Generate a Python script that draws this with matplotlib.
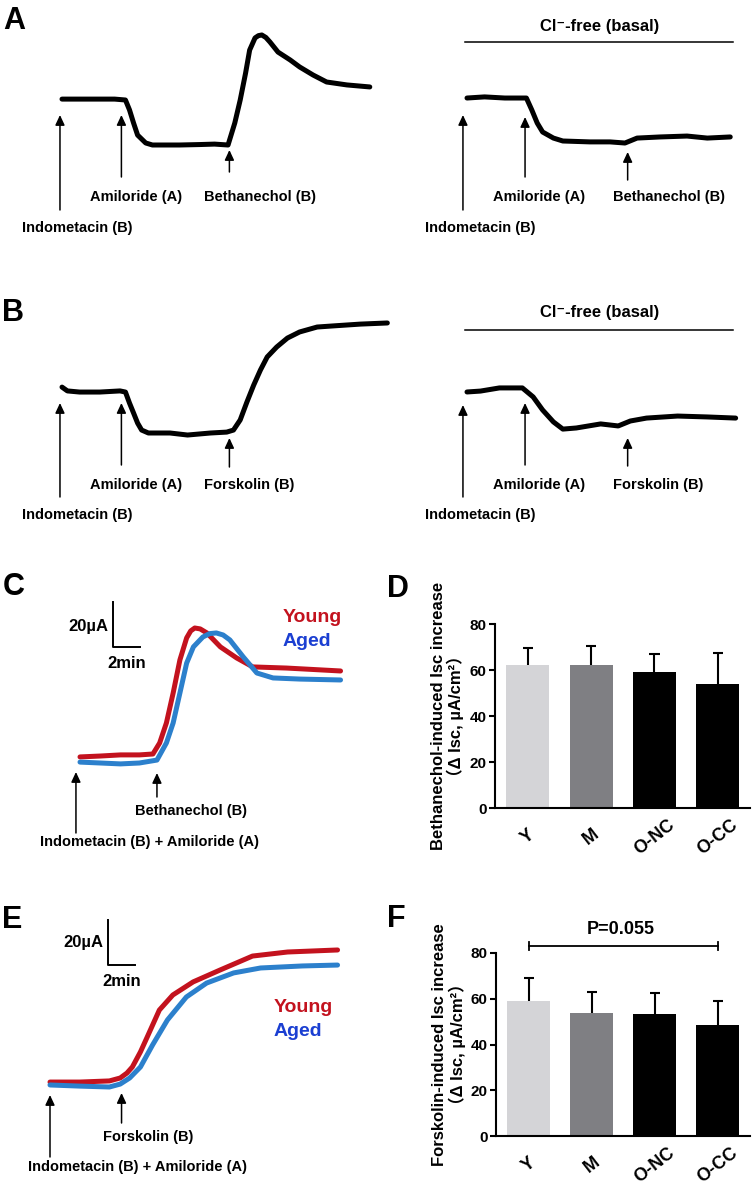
import numpy as np
import matplotlib.pyplot as plt
from matplotlib import transforms

# traces: time (min), Isc (uA) relative to the amiloride plateau
a1_t = [0, 1.3, 2.8, 3.9, 4.7, 5.0, 5.3, 5.6, 6.2, 6.7, 8.7, 10.2, 11.3, 12.3, 12.8, 13.2, 13.6, 13.9,
        14.3, 14.55, 14.8, 15.1, 15.4, 16.0, 16.9, 17.6, 18.6, 19.6, 21.1, 22.8]
a1_i = [20.4, 20.4, 20.4, 20.4, 20.0, 15.6, 9.8, 4.4, 0.9, 0, 0, 0.2, 0.4, 0, 9.8, 20.0, 32.0, 42.2,
        47.6, 48.6, 48.9, 47.8, 45.8, 41.3, 37.8, 34.7, 31.1, 28.0, 26.7, 25.8]
a2_t = [0, 1.3, 2.8, 3.9, 4.4, 4.8, 5.2, 5.6, 6.4, 7.1, 9.1, 10.6, 11.7, 12.6, 14.3, 16.3, 17.8, 19.5]
a2_i = [19.1, 19.6, 19.1, 19.1, 19.1, 13.8, 8.0, 4.0, 1.3, 0, -0.4, -0.4, -0.9, 1.3, 1.8, 2.2, 1.3, 1.8]

b1_t = [0, 0.4, 1.3, 2.8, 4.3, 4.7, 5.0, 5.3, 5.6, 5.9, 6.4, 8.0, 9.3, 11.0, 12.2, 12.7, 13.2, 13.7,
        14.2, 14.7, 15.2, 15.9, 16.7, 17.6, 18.9, 20.1, 22.1, 24.1]
b1_i = [20.4, 18.7, 18.2, 18.2, 18.7, 18.2, 13.3, 8.9, 4.4, 1.3, 0, 0, -0.9, 0, 0.4, 1.3, 5.8, 13.8,
        21.3, 28.0, 33.8, 38.2, 42.2, 44.9, 47.1, 47.6, 48.4, 48.9]
b2_t = [0, 1.0, 2.4, 4.1, 4.9, 5.6, 6.4, 7.1, 8.1, 9.9, 11.2, 12.1, 13.3, 15.6, 17.8, 19.9]
b2_i = [16.9, 17.3, 18.7, 18.7, 14.7, 8.9, 3.6, 0.4, 0.9, 2.7, 1.8, 4.0, 5.3, 6.2, 5.8, 5.3]

c_t_young = [0, 1.5, 3.0, 4.4, 5.4, 5.9, 6.4, 6.9, 7.4, 7.9, 8.2, 8.5, 8.9, 9.4, 10.4, 11.6, 12.8, 15.3, 19.3]
c_i_young = [2.7, 3.1, 3.6, 3.6, 4.0, 8.9, 17.8, 31.1, 45.8, 55.6, 58.7, 60.0, 59.6, 57.8, 51.6, 46.7, 42.7,
             42.2, 40.9]
c_t_aged = [0, 1.5, 3.0, 4.4, 5.7, 6.4, 6.9, 7.4, 7.9, 8.4, 9.1, 9.6, 10.1, 10.6, 11.1, 12.1, 13.1, 14.3,
            16.3, 19.3]
c_i_aged = [0.4, 0, -0.4, 0, 1.3, 8.9, 17.8, 31.1, 44.4, 51.6, 56.0, 57.5, 57.8, 56.9, 54.7, 47.1, 40.0,
            37.8, 37.3, 36.9]

e_t_young = [0, 2.2, 4.4, 5.2, 5.7, 6.1, 6.7, 7.2, 8.1, 9.1, 10.6, 12.6, 15.0, 17.6, 21.3]
e_i_young = [2.2, 2.2, 2.7, 4.0, 6.2, 8.9, 15.6, 22.2, 34.2, 40.9, 46.7, 52.0, 58.2, 60.0, 60.9]
e_t_aged = [0, 2.2, 4.4, 5.2, 5.9, 6.7, 7.6, 8.7, 10.1, 11.6, 13.6, 15.6, 18.7, 21.3]
e_i_aged = [0.9, 0.4, 0, 1.3, 4.0, 8.9, 18.7, 29.8, 40.0, 46.2, 50.7, 52.9, 53.8, 54.2]

# drug additions (min)
ab_names = ['Indometacin (B)', 'Amiloride (A)']
a1_ev = [-0.15, 4.4, 12.4]
a2_ev = [-0.3, 4.3, 11.9]
b1_ev = [-0.15, 4.4, 12.4]
b2_ev = [-0.3, 4.3, 11.9]
c_ev = [-0.3, 5.7]
e_ev = [0.0, 5.3]

# summary bars
groups = ['Y', 'M', 'O-NC', 'O-CC']
beth_mean = [62.2, 62.2, 59.1, 54.0]
beth_sem = [7.4, 8.4, 7.9, 13.5]
forsk_mean = [59.0, 53.7, 53.3, 48.5]
forsk_sem = [10.0, 9.2, 9.2, 10.5]

W, H = 754, 1190
SX, SY = 13.5, 2.25   # px per min, px per uA
FONT = ['Liberation Sans', 'DejaVu Sans']
RED = '#C3121E'
BLUE = '#2C80CC'
BLUE_TXT = '#1B3FD2'

plt.rcParams['font.family'] = FONT
fig = plt.figure(figsize=(W / 100, H / 100), dpi=100)
PX = transforms.Affine2D().scale(1 / 100, -1 / 100).translate(0, H / 100) + fig.dpi_scale_trans


def ftext(x, y, s, **kw):
    kw.setdefault('va', 'center')
    kw.setdefault('fontweight', 'bold')
    fig.text(x / W, 1 - y / H, s, **kw)


def trace_ax(left, top, width, height, x0, y0):
    ax = fig.add_axes([left / W, 1 - (top + height) / H, width / W, height / H])
    ax.set_xlim((left - x0) / SX, (left + width - x0) / SX)
    ax.set_ylim((y0 - top - height) / SY, (y0 - top) / SY)
    ax.set_axis_off()
    return ax


def arrow(ax, t, tip, tail):
    blend = transforms.blended_transform_factory(ax.transData, PX)
    ax.annotate('', xy=(t, tip), xytext=(t, tail), xycoords=blend, textcoords=blend,
                arrowprops=dict(arrowstyle='-|>,head_length=0.6,head_width=0.28',
                                color='k', lw=1.1, shrinkA=0, shrinkB=0))


def cl_free(ax, t0, t1, y_line, y_text):
    blend = transforms.blended_transform_factory(ax.transData, PX)
    ax.plot([t0, t1], [y_line, y_line], color='k', lw=1.1, transform=blend, clip_on=False)
    ftext(600, y_text, 'Cl⁻-free (basal)', ha='center', fontsize=12)


def scale_bar(ax, t, i):
    ax.plot([t, t, t + 2], [i + 20, i, i], color='k', lw=1.4, clip_on=False)


def trace(ax, t, i, color):
    ax.plot(t, i, color=color, lw=3.6, solid_joinstyle='round', solid_capstyle='round')


# ---- A ----
ax = trace_ax(10, 20, 380, 220, 62, 145)
trace(ax, a1_t, a1_i, 'k')
arrow(ax, a1_ev[0], 115, 210)
arrow(ax, a1_ev[1], 115, 177)
arrow(ax, a1_ev[2], 150, 172)
ftext(22, 228, ab_names[0], ha='left', fontsize=10.5)
ftext(90, 197, ab_names[1], ha='left', fontsize=10.5)
ftext(204, 197, 'Bethanechol (B)', ha='left', fontsize=10.5)

ax = trace_ax(400, 20, 350, 220, 467, 141)
trace(ax, a2_t, a2_i, 'k')
arrow(ax, a2_ev[0], 115, 210)
arrow(ax, a2_ev[1], 117, 177)
arrow(ax, a2_ev[2], 152, 180)
ftext(425, 228, ab_names[0], ha='left', fontsize=10.5)
ftext(493, 197, ab_names[1], ha='left', fontsize=10.5)
ftext(613, 197, 'Bethanechol (B)', ha='left', fontsize=10.5)
cl_free(ax, -0.15, 19.7, 42, 27)

# ---- B ----
ax = trace_ax(10, 300, 385, 230, 62, 433)
trace(ax, b1_t, b1_i, 'k')
arrow(ax, b1_ev[0], 403, 497)
arrow(ax, b1_ev[1], 403, 465)
arrow(ax, b1_ev[2], 438, 467)
ftext(22, 515, ab_names[0], ha='left', fontsize=10.5)
ftext(90, 485, ab_names[1], ha='left', fontsize=10.5)
ftext(204, 485, 'Forskolin (B)', ha='left', fontsize=10.5)

ax = trace_ax(400, 300, 350, 230, 467, 430)
trace(ax, b2_t, b2_i, 'k')
arrow(ax, b2_ev[0], 405, 497)
arrow(ax, b2_ev[1], 403, 465)
arrow(ax, b2_ev[2], 438, 466)
ftext(425, 515, ab_names[0], ha='left', fontsize=10.5)
ftext(493, 485, ab_names[1], ha='left', fontsize=10.5)
ftext(613, 485, 'Forskolin (B)', ha='left', fontsize=10.5)
cl_free(ax, -0.15, 19.7, 330, 313)

# ---- C ----
ax = trace_ax(20, 590, 340, 270, 80, 763)
trace(ax, c_t_young, c_i_young, RED)
trace(ax, c_t_aged, c_i_aged, BLUE)
scale_bar(ax, 2.44, 51.6)
arrow(ax, c_ev[0], 772, 833)
arrow(ax, c_ev[1], 773, 797)
ftext(135, 811, 'Bethanechol (B)', ha='left', fontsize=10.5)
ftext(40, 842, ab_names[0] + ' + ' + ab_names[1], ha='left', fontsize=10.5)
ftext(108, 627, '20µA', ha='right', fontsize=12)
ftext(127, 664, '2min', ha='center', fontsize=12)
ftext(283, 618, 'Young', ha='left', fontsize=14, color=RED)
ftext(283, 642, 'Aged', ha='left', fontsize=14, color=BLUE_TXT)

# ---- E ----
ax = trace_ax(20, 910, 340, 270, 50, 1087)
trace(ax, e_t_young, e_i_young, RED)
trace(ax, e_t_aged, e_i_aged, BLUE)
scale_bar(ax, 4.30, 54.2)
arrow(ax, e_ev[0], 1095, 1157)
arrow(ax, e_ev[1], 1093, 1123)
ftext(103, 1137, 'Forskolin (B)', ha='left', fontsize=10.5)
ftext(28, 1167, ab_names[0] + ' + ' + ab_names[1], ha='left', fontsize=10.5)
ftext(103, 943, '20µA', ha='right', fontsize=12)
ftext(122, 982, '2min', ha='center', fontsize=12)
ftext(274, 1007, 'Young', ha='left', fontsize=14, color=RED)
ftext(274, 1032, 'Aged', ha='left', fontsize=14, color=BLUE_TXT)


# ---- D / F ----
def bar_panel(left, top, width, height, means, sems, label):
    ax = fig.add_axes([left / W, 1 - (top + height) / H, width / W, height / H])
    x = np.arange(len(groups))
    tops = np.array(means) + np.array(sems)
    ax.bar(x, means, width=0.68, color=['#D4D4D7', '#7F7F83', 'black', 'black'], zorder=2)
    ax.vlines(x, means, tops, color='k', lw=1.5, zorder=1)
    ax.hlines(tops, x - 0.08, x + 0.08, color='k', lw=1.5, zorder=1)
    ax.set_xlim(-0.52, 3.51)
    ax.set_ylim(0, 80)
    ax.set_yticks([0, 20, 40, 60, 80])
    ax.set_xticks(x)
    ax.set_xticklabels(groups, rotation=38, ha='center', va='center',
                       rotation_mode='anchor', fontsize=13, fontweight='bold')
    ax.tick_params(axis='x', length=0, pad=21)
    ax.tick_params(axis='y', length=4, width=1.5, pad=2, labelsize=11)
    for t in ax.get_yticklabels():
        t.set_fontweight('bold')
    for s in ['top', 'right']:
        ax.spines[s].set_visible(False)
    for s in ['left', 'bottom']:
        ax.spines[s].set_linewidth(1.5)
    ax.set_ylabel(label + '\n（Δ Isc, µA/cm²）', fontsize=12, fontweight='bold',
                  family=['Liberation Sans', 'Noto Sans CJK SC'], linespacing=1.1)
    ax.yaxis.set_label_coords(-0.12, 0.5)
    return ax


bar_panel(495, 624, 255, 184, beth_mean, beth_sem, 'Bethanechol-induced Isc increase')
ax = bar_panel(496, 953, 254, 183, forsk_mean, forsk_sem, 'Forskolin-induced Isc increase')
ax.plot([0, 3], [83.1, 83.1], color='k', lw=1.3, clip_on=False)
ax.plot([0, 0], [81.4, 84.8], color='k', lw=1.3, clip_on=False)
ax.plot([3, 3], [81.4, 84.8], color='k', lw=1.3, clip_on=False)
ftext(621, 930, 'P=0.055', ha='center', fontsize=13)

# panel letters
for lab, x, y in [('A', 3, 21), ('B', 2, 313), ('C', 3, 587), ('D', 387, 589), ('E', 2, 920), ('F', 387, 919)]:
    ftext(x, y, lab, ha='left', fontsize=22)

fig.savefig('out.png', dpi=100)
